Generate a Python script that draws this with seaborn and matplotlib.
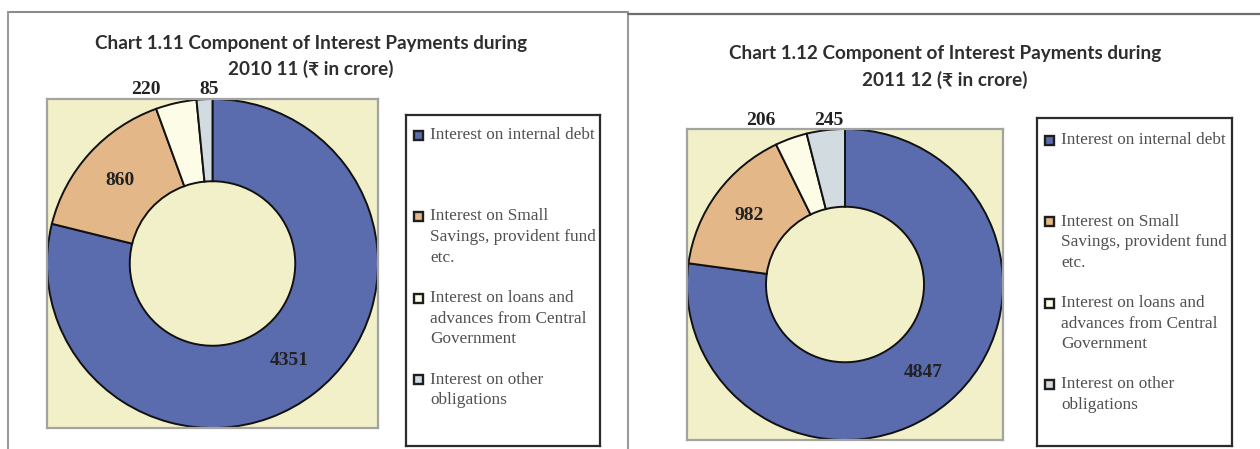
import numpy as np
import matplotlib
matplotlib.use("Agg")
import matplotlib.pyplot as plt
from matplotlib.patches import Rectangle
from matplotlib.lines import Line2D
import seaborn as sns

# ---- data -------------------------------------------------------------
categories = [
    "Interest on internal debt",
    "Interest on Small Savings, provident fund etc.",
    "Interest on loans and advances from Central Government",
    "Interest on other obligations",
]
legend_lines = [
    ["Interest on internal debt"],
    ["Interest on Small", "Savings, provident fund", "etc."],
    ["Interest on loans and", "advances from Central", "Government"],
    ["Interest on other", "obligations"],
]
values_2010_11 = [4351, 860, 220, 85]
values_2011_12 = [4847, 982, 206, 245]
titles_2010_11 = ["Chart 1.11 Component of Interest Payments during",
                  "2010 11 (\u20b9 in crore)"]
titles_2011_12 = ["Chart 1.12 Component of Interest Payments during",
                  "2011 12 (\u20b9 in crore)"]

# ---- style ------------------------------------------------------------
sns.set_theme(style="white")
plt.rcParams["font.family"] = ["Liberation Serif", "DejaVu Serif"]
palette = sns.color_palette(["#5a6bae", "#e3b787", "#fdfce6", "#d2dce0"])
PLOT_BG = "#f1f0c9"
TITLE_FONT = ["Lato", "Noto Sans", "DejaVu Sans"]

W, H = 1260, 449
fig = plt.figure(figsize=(W / 100, H / 100), dpi=100)
fig.patch.set_facecolor("white")


def px_axes(x0, y0, x1, y1):
    """Axes placed by pixel box (origin top-left)."""
    return fig.add_axes([x0 / W, 1 - y1 / H, (x1 - x0) / W, (y1 - y0) / H])


def fig_line(xs, ys, color, lw):
    fig.add_artist(Line2D([x / W for x in xs], [1 - y / H for y in ys],
                          color=color, lw=lw, transform=fig.transFigure))


def donut(box, values):
    ax = px_axes(*box)
    wedges, _ = ax.pie(values, colors=palette, startangle=90, counterclock=False,
                       radius=1.0,
                       wedgeprops=dict(width=0.5, edgecolor="#111111", linewidth=1.4))
    ax.set_aspect("auto")
    ax.set_xlim(-1, 1)
    ax.set_ylim(-1, 1)
    ax.set_frame_on(True)
    ax.set_facecolor(PLOT_BG)
    for s in ax.spines.values():
        s.set_visible(True)
        s.set_color("#a3a3a3")
        s.set_linewidth(1.6)
    # value labels: the two large wedges inside the ring, the two small ones above
    outer_shift = {2: -0.165, 3: 0.03}
    for i, (w, v) in enumerate(zip(wedges, values)):
        mid = np.deg2rad((w.theta1 + w.theta2) / 2)
        if i < 2:
            x, y = 0.75 * np.cos(mid), 0.75 * np.sin(mid)
        else:
            x, y = 1.07 * np.cos(mid) + outer_shift[i], 1.055
        ax.text(x, y, f"{v}", ha="center", va="center", fontsize=14,
                fontweight="bold", color="#222222", clip_on=False)
    return ax


def legend_box(box, first_offset):
    x0, y0, x1, y1 = box
    ax = px_axes(*box)
    ax.set_xlim(0, x1 - x0)
    ax.set_ylim(y1 - y0, 0)
    ax.set_xticks([])
    ax.set_yticks([])
    ax.set_facecolor("white")
    for s in ax.spines.values():
        s.set_visible(True)
        s.set_color("#2b2b2b")
        s.set_linewidth(1.6)
    for i, lines in enumerate(legend_lines):
        yc = first_offset + 81.5 * i
        ax.add_patch(Rectangle((8, yc - 4.5), 9, 9, facecolor=palette[i],
                               edgecolor="#1e1e1e", lw=1.7))
        for j, line in enumerate(lines):
            ax.text(24, yc + 20.7 * j, line, ha="left", va="center",
                    fontsize=12.4, color="#505050")
    return ax


def title(cx, ys, lines):
    for y, line in zip(ys, lines):
        fig.text(cx / W, 1 - y / H, line, ha="center", va="center",
                 fontsize=13.6, fontweight="bold", color="#2e2e2e",
                 family=TITLE_FONT)


# ---- panel frames -----------------------------------------------------
fig_line([8, 628], [12, 12], "#8c8c8c", 1.5)
fig_line([8, 8], [12, 449], "#9a9a9a", 1.5)
fig_line([628, 628], [12, 449], "#9a9a9a", 1.5)
fig_line([628, 1260], [14, 14], "#6e6e6e", 1.6)

# ---- 2010-11 ----------------------------------------------------------
title(311, [43, 69], titles_2010_11)
donut((47, 99, 378, 428), values_2010_11)
legend_box((406, 115, 600, 446), 20)

# ---- 2011-12 ----------------------------------------------------------
title(945, [53, 80], titles_2011_12)
donut((687, 129, 1003, 440), values_2011_12)
legend_box((1037, 118, 1232, 446), 22)

fig.savefig("out.png", dpi=100, facecolor="white")
